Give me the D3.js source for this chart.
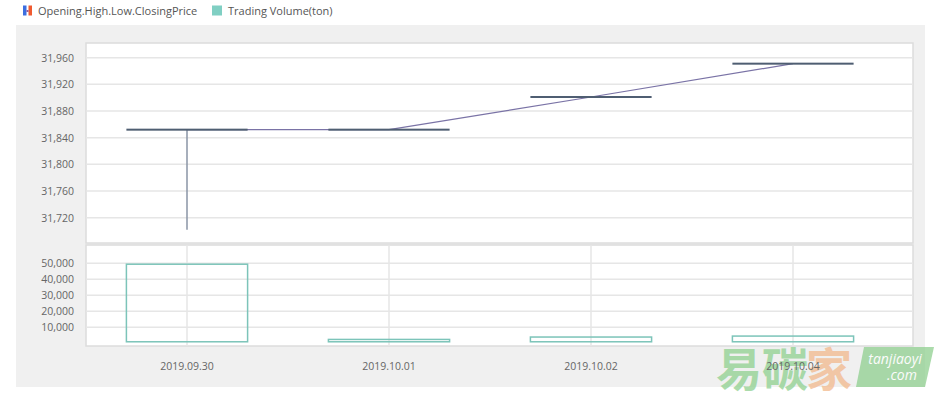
<!DOCTYPE html>
<html>
<head>
<meta charset="utf-8">
<script src="https://cdn.jsdelivr.net/npm/d3@7"></script>
<style>
  body { margin: 0; background: #fff; }
  svg { display: block; font-family: "Open Sans", "Noto Sans", sans-serif; }
</style>
</head>
<body>
<svg></svg>
<script>
const svgWidth = 936
const svgHeight = 397

// data
const dates = ["2019.09.30", "2019.10.01", "2019.10.02", "2019.10.04"]
const openPrice = [31852, 31852, 31901, 31951]
const highPrice = [31852, 31852, 31901, 31951]
const lowPrice = [31702, 31852, 31901, 31951]
const closePrice = [31852, 31852, 31901, 31951]
const volume = [49400, 2400, 3900, 4500]
const priceTicks = [31720, 31760, 31800, 31840, 31880, 31920, 31960]
const volumeTicks = [10000, 20000, 30000, 40000, 50000]

const plotLeft = 86
const plotRight = 913
const upper = { top: 43, bottom: 243 }
const lower = { top: 245, bottom: 346 }

const svg = d3.select("svg")
    .attr("width", svgWidth)
    .attr("height", svgHeight)

// grey chart panel
svg.append("rect")
    .attr("x", 16).attr("y", 25)
    .attr("width", 909).attr("height", 362)
    .attr("fill", "#f0f0f0")

// plot backgrounds
svg.append("rect")
    .attr("x", plotLeft).attr("y", upper.top)
    .attr("width", plotRight - plotLeft).attr("height", upper.bottom - upper.top)
    .attr("fill", "#fff").attr("stroke", "#dcdcdc").attr("stroke-width", 1.5)
svg.append("rect")
    .attr("x", plotLeft).attr("y", lower.top)
    .attr("width", plotRight - plotLeft).attr("height", lower.bottom - lower.top)
    .attr("fill", "#fff").attr("stroke", "#dcdcdc").attr("stroke-width", 1.5)

const xScale = d3.scaleBand()
    .domain(dates)
    .range([plotLeft, 894])
const center = (d) => xScale(d) + xScale.bandwidth() / 2
const candleWidth = xScale.bandwidth() * 0.6

const yPrice = d3.scaleLinear()
    .domain([31682, 31982])
    .range([upper.bottom, upper.top])
const yVol = d3.scaleLinear()
    .domain([-1700, 61400])
    .range([lower.bottom, lower.top])

// gridlines
svg.append("g")
    .selectAll("line")
    .data(priceTicks)
    .join("line")
    .attr("x1", plotLeft).attr("x2", plotRight)
    .attr("y1", (d) => yPrice(d)).attr("y2", (d) => yPrice(d))
    .attr("stroke", "#e6e6e6").attr("stroke-width", 1.5)

svg.append("g")
    .selectAll("line")
    .data(volumeTicks)
    .join("line")
    .attr("x1", plotLeft).attr("x2", plotRight)
    .attr("y1", (d) => yVol(d)).attr("y2", (d) => yVol(d))
    .attr("stroke", "#e6e6e6").attr("stroke-width", 1.5)

svg.append("g")
    .selectAll("line")
    .data(dates)
    .join("line")
    .attr("x1", (d) => center(d)).attr("x2", (d) => center(d))
    .attr("y1", lower.top).attr("y2", lower.bottom)
    .attr("stroke", "#e6e6e6").attr("stroke-width", 1.5)

// volume bars
svg.append("g")
    .selectAll("rect")
    .data(dates)
    .join("rect")
    .attr("x", (d) => center(d) - candleWidth / 2)
    .attr("width", candleWidth)
    .attr("y", (d, i) => yVol(volume[i]))
    .attr("height", (d, i) => yVol(0) - yVol(volume[i]) - 1.5)
    .attr("fill", "none")
    .attr("stroke", "#7cc4b9")
    .attr("stroke-width", 1.5)

// close line
const line = d3.line()
    .x((d) => center(d))
    .y((d, i) => yPrice(closePrice[i]))
svg.append("path")
    .datum(dates)
    .attr("d", line)
    .attr("fill", "none")
    .attr("stroke", "#7a73a6")
    .attr("stroke-width", 1.2)

// candles (wicks + bodies)
svg.append("g")
    .selectAll("line")
    .data(dates)
    .join("line")
    .attr("x1", (d) => center(d)).attr("x2", (d) => center(d))
    .attr("y1", (d, i) => yPrice(highPrice[i]))
    .attr("y2", (d, i) => yPrice(lowPrice[i]))
    .attr("stroke", "#8a95a6")
    .attr("stroke-width", 1.5)

svg.append("g")
    .selectAll("rect")
    .data(dates)
    .join("rect")
    .attr("x", (d) => center(d) - candleWidth / 2)
    .attr("width", candleWidth)
    .attr("y", (d, i) => yPrice(Math.max(openPrice[i], closePrice[i])) - 1)
    .attr("height", (d, i) => Math.max(2, yPrice(Math.min(openPrice[i], closePrice[i])) - yPrice(Math.max(openPrice[i], closePrice[i]))))
    .attr("fill", "#4f5e72")

// watermark (sits under the date labels)
const wm = svg.append("g").attr("opacity", 0.75)
wm.append("text").attr("x", 716).attr("y", 386)
    .attr("font-family", "'Noto Sans CJK SC', sans-serif")
    .attr("font-size", 46).attr("font-weight", "bold")
    .attr("fill", "#8fd08f").text("易碳")
wm.append("text").attr("x", 806).attr("y", 386)
    .attr("font-family", "'Noto Sans CJK SC', sans-serif")
    .attr("font-size", 46).attr("font-weight", "bold")
    .attr("fill", "#f2b98c").text("家")
wm.append("path")
    .attr("d", "M864,347 L934,347 L925,387 L856,387 Z")
    .attr("fill", "#8fcf8f")
wm.append("text").attr("x", 895).attr("y", 364)
    .attr("text-anchor", "middle").attr("font-size", 14).attr("font-style", "italic")
    .attr("fill", "#fff").text("tanjiaoyi")
wm.append("text").attr("x", 902).attr("y", 380)
    .attr("text-anchor", "middle").attr("font-size", 14).attr("font-style", "italic")
    .attr("fill", "#fff").text(".com")

// axes
const priceAxis = svg.append("g")
    .attr("transform", `translate(${plotLeft - 9},0)`)
    .call(d3.axisLeft(yPrice).tickValues(priceTicks).tickSize(0).tickFormat(d3.format(",")))
const volAxis = svg.append("g")
    .attr("transform", `translate(${plotLeft - 9},0)`)
    .call(d3.axisLeft(yVol).tickValues(volumeTicks).tickSize(0).tickFormat(d3.format(",")))
const dateAxis = svg.append("g")
    .attr("transform", `translate(0,${lower.bottom + 12})`)
    .call(d3.axisBottom(xScale).tickSize(0))

;[priceAxis, volAxis, dateAxis].forEach((g) => {
    g.select(".domain").remove()
    g.selectAll("text")
        .attr("font-family", "'Open Sans', 'Noto Sans', sans-serif")
        .attr("font-size", 10.5)
        .attr("fill", "#666")
})
dateAxis.selectAll("text").attr("dy", "0.9em")

// legend
const legend = svg.append("g")
legend.append("rect").attr("x", 23).attr("y", 5.5).attr("width", 3.5).attr("height", 10).attr("fill", "#3c6ee0")
legend.append("rect").attr("x", 28.5).attr("y", 5.5).attr("width", 3.5).attr("height", 10).attr("fill", "#f05a30")
legend.append("rect").attr("x", 26.5).attr("y", 10).attr("width", 2).attr("height", 2).attr("fill", "#9a5a9a")
legend.append("text").attr("x", 38).attr("y", 14.5)
    .attr("font-size", 11).attr("fill", "#555")
    .text("Opening.High.Low.ClosingPrice")
legend.append("rect").attr("x", 212).attr("y", 5.5).attr("width", 10).attr("height", 10).attr("fill", "#80cfc3")
legend.append("text").attr("x", 228).attr("y", 14.5)
    .attr("font-size", 11).attr("fill", "#555")
    .text("Trading Volume(ton)")
</script>
</body>
</html>
